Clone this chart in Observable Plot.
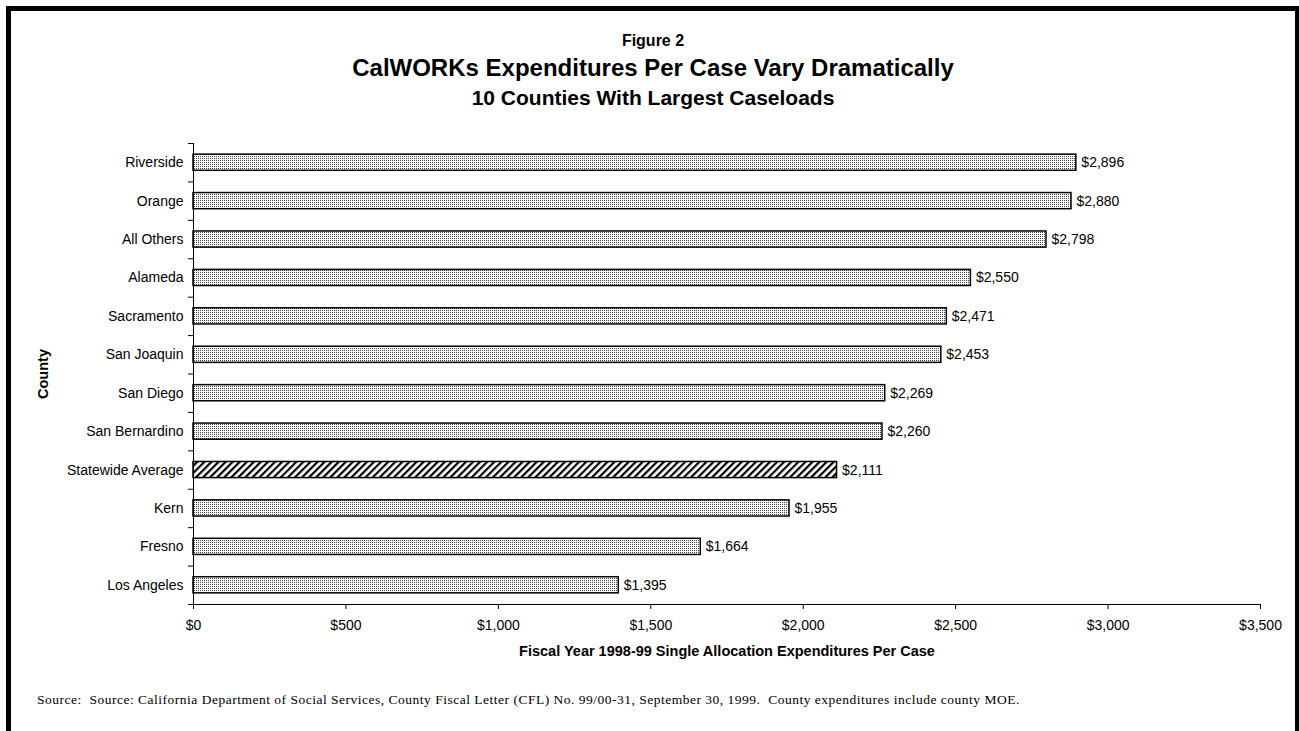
<!DOCTYPE html>
<html><head><meta charset="utf-8">
<script src="https://cdn.jsdelivr.net/npm/d3@7"></script>
<script src="https://cdn.jsdelivr.net/npm/@observablehq/plot@0.6"></script>
<style>
body{margin:0;background:#fff;}
#page{position:relative;width:1299px;height:731px;overflow:hidden;font-family:"Liberation Sans",Arial,sans-serif;color:#000;}
#chart{position:absolute;left:0;top:0;}
#frame{position:absolute;left:6px;top:6px;width:1293px;height:760px;border-top:5px solid #000;border-left:5px solid #000;border-right:4px solid #000;box-sizing:border-box;pointer-events:none;}
.t{position:absolute;left:0;width:1306px;text-align:center;font-weight:bold;line-height:1;white-space:nowrap;}
#fig{top:33px;font-size:16px;}
#title{top:56px;font-size:24px;}
#sub{top:87px;font-size:21px;}
#src{position:absolute;left:37px;top:693px;font-family:"Liberation Serif","DejaVu Serif",serif;font-size:13.5px;letter-spacing:0.5px;white-space:nowrap;line-height:1;}
</style></head>
<body>
<div id="page">
  <div id="chart"></div>
  <div id="frame"></div>
  <div class="t" id="fig">Figure 2</div>
  <div class="t" id="title">CalWORKs Expenditures Per Case Vary Dramatically</div>
  <div class="t" id="sub">10 Counties With Largest Caseloads</div>
  <div id="src">Source:&nbsp; Source: California Department of Social Services, County Fiscal Letter (CFL) No. 99/00-31, September 30, 1999.&nbsp; County expenditures include county MOE.</div>
</div>
<script>
const counties = ["Riverside","Orange","All Others","Alameda","Sacramento","San Joaquin","San Diego","San Bernardino","Statewide Average","Kern","Fresno","Los Angeles"];
const expenditures = [2896,2880,2798,2550,2471,2453,2269,2260,2111,1955,1664,1395];
const xTicks = [0,500,1000,1500,2000,2500,3000,3500];
const highlight = "Statewide Average";
const xLabel = "Fiscal Year 1998-99 Single Allocation Expenditures Per Case";
const yLabel = "County";

const data = counties.map((c, i) => ({county: c, value: expenditures[i], i}));
const barHalf = 0.21;
const fmt = d3.format("$,");
const n = counties.length;

const plot = Plot.plot({
  width: 1299,
  height: 731,
  marginTop: 143,
  marginBottom: 127,
  marginLeft: 193,
  marginRight: 39,
  style: {background: "transparent", fontFamily: "'Liberation Sans', Arial, sans-serif", fontSize: "14px", color: "#000", overflow: "visible"},
  x: {domain: [0, 3500]},
  y: {domain: [0, n], reverse: true},
  marks: [
    Plot.rectX(data.filter(d => d.county !== highlight), {x1: 0, x2: "value", y1: d => d.i + 0.5 - barHalf, y2: d => d.i + 0.5 + barHalf, fill: "url(#dots)", stroke: "#000", strokeWidth: 1.5}),
    Plot.rectX(data.filter(d => d.county === highlight), {x1: 0, x2: "value", y1: d => d.i + 0.5 - barHalf, y2: d => d.i + 0.5 + barHalf, fill: "url(#hatch)", stroke: "#000", strokeWidth: 1.5}),
    Plot.text(data, {x: "value", y: d => d.i + 0.5, text: d => fmt(d.value), dx: 5, textAnchor: "start", fontSize: 14, fill: "#000"}),
    Plot.ruleX([0], {stroke: "#000", strokeWidth: 1}),
    Plot.ruleY([n], {stroke: "#000", strokeWidth: 1}),
    Plot.axisY(d3.range(n + 1), {tickSize: 5, tickFormat: () => "", stroke: "#000", strokeWidth: 1, label: null}),
    Plot.axisY(data.map(d => d.i + 0.5), {tickSize: 0, tickPadding: 10, tickFormat: v => counties[Math.round(v - 0.5)], fontSize: 14, fill: "#000", label: null}),
    Plot.axisX(xTicks, {tickSize: 5, tickPadding: 11, tickFormat: fmt, fontSize: 14, fill: "#000", stroke: "#000", label: null}),
    Plot.text([xLabel], {frameAnchor: "bottom", dy: 47, lineAnchor: "middle", textAnchor: "middle", fontWeight: "bold", fontSize: 14.5, fill: "#000"}),
    Plot.text([yLabel], {frameAnchor: "left", dx: -150, rotate: -90, textAnchor: "middle", lineAnchor: "middle", fontWeight: "bold", fontSize: 14.5, fill: "#000"})
  ]
});

const ns = "http://www.w3.org/2000/svg";
const defs = document.createElementNS(ns, "defs");
defs.innerHTML = `
<pattern id="dots" width="2" height="2" patternUnits="userSpaceOnUse">
  <rect width="2" height="2" fill="#fff"/>
  <rect width="1" height="1" fill="#444"/>
</pattern>
<pattern id="hatch" width="5" height="5" patternUnits="userSpaceOnUse" patternTransform="rotate(45)">
  <rect width="5" height="5" fill="#fff"/>
  <line x1="1" y1="0" x2="1" y2="5" stroke="#000" stroke-width="2.4"/>
</pattern>`;
plot.insertBefore(defs, plot.firstChild);
document.getElementById("chart").appendChild(plot);
</script>
</body></html>
